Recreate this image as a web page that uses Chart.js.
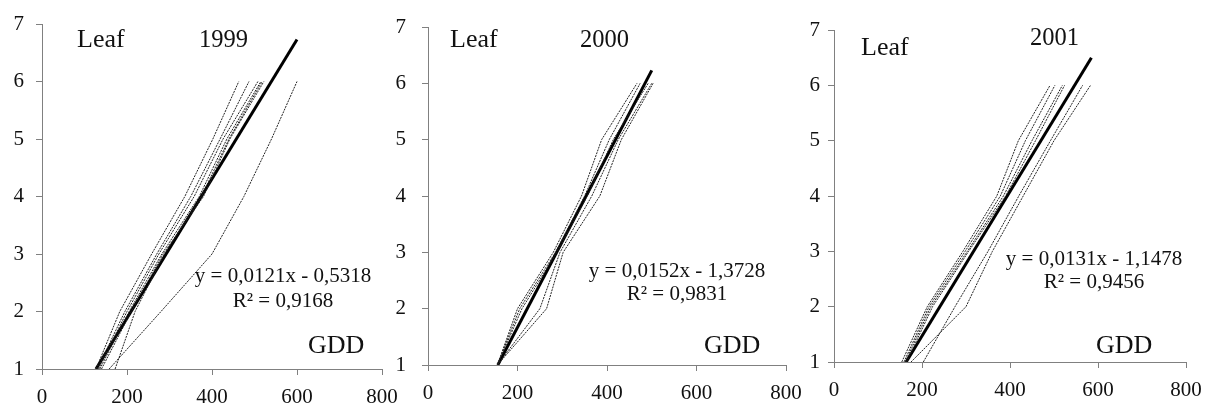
<!DOCTYPE html>
<html>
<head>
<meta charset="utf-8">
<script src="https://cdn.jsdelivr.net/npm/chart.js@4.4.0/dist/chart.umd.min.js"></script>
<style>
  html, body { margin: 0; padding: 0; background: #fff; }
  #wrap { position: relative; width: 1205px; height: 403px; overflow: hidden; }
  #wrap canvas { position: absolute; left: 0; top: 0; }
</style>
</head>
<body>
<div id="wrap">
  <canvas id="c1999" width="1205" height="403"></canvas>
  <canvas id="c2000" width="1205" height="403"></canvas>
  <canvas id="c2001" width="1205" height="403"></canvas>
</div>
<script>
// leaf stage (y) and GDD (x)
const leaves = [1, 2, 3, 4, 5, 6];
const xTicks = [0, 200, 400, 600, 800];
const yTicks = [1, 2, 3, 4, 5, 6, 7];

const gdd1999 = [
  [127, 183, 258, 336, 402, 463],
  [130, 195, 270, 350, 419, 487],
  [133, 200, 275, 358, 426, 508],
  [136, 205, 282, 370, 435, 515],
  [140, 210, 285, 380, 442, 522],
  [172, 219, 288, 375, 440, 518],
  [158, 280, 400, 475, 540, 600]
];
const trendX1999 = [127, 600];
const trendY1999 = [1, 6.73];

const gdd2000 = [
  [155, 200, 280, 343, 388, 467],
  [155, 205, 285, 350, 405, 474],
  [155, 210, 288, 356, 414, 492],
  [155, 250, 295, 366, 425, 500],
  [155, 265, 302, 384, 432, 503]
];
const trendX2000 = [156, 500];
const trendY2000 = [1, 6.23];

const gdd2001 = [
  [154, 212, 293, 370, 419, 491],
  [159, 216, 298, 378, 435, 502],
  [162, 220, 303, 385, 450, 519],
  [165, 224, 306, 390, 458, 524],
  [175, 300, 360, 430, 500, 583],
  [203, 275, 350, 420, 492, 565]
];
const trendX2001 = [164, 585];
const trendY2001 = [1, 6.5];

const serif = '"Liberation Serif", "Times New Roman", serif';

const panels = [
  {
    id: 'c1999', year: '1999', series: gdd1999, tx: trendX1999, ty: trendY1999,
    eq: 'y = 0,0121x - 0,5318', r2: 'R\u00b2 = 0,9168',
    area: { left: 42, right: 382, top: 24, bottom: 369 }, yPad: 12, xPad: 10,
    text: { leaf: [77, 47], year: [199, 47], eq: [283, 282, 307], gdd: [308, 353] }
  },
  {
    id: 'c2000', year: '2000', series: gdd2000, tx: trendX2000, ty: trendY2000,
    eq: 'y = 0,0152x - 1,3728', r2: 'R\u00b2 = 0,9831',
    area: { left: 428, right: 786, top: 27, bottom: 365 }, yPad: 16, xPad: 10,
    text: { leaf: [450, 47], year: [580, 47], eq: [677, 277, 300], gdd: [704, 353] }
  },
  {
    id: 'c2001', year: '2001', series: gdd2001, tx: trendX2001, ty: trendY2001,
    eq: 'y = 0,0131x - 1,1478', r2: 'R\u00b2 = 0,9456',
    area: { left: 834, right: 1186, top: 30, bottom: 362 }, yPad: 8, xPad: 10,
    text: { leaf: [861, 55], year: [1030, 45], eq: [1094, 265, 288], gdd: [1096, 353] }
  }
];

function makeChart(p) {
  const datasets = p.series.map((row) => ({
    data: row.map((g, i) => ({ x: g, y: leaves[i] })),
    showLine: true,
    borderColor: '#222',
    borderWidth: 1,
    borderDash: [2, 1],
    pointRadius: 0,
    fill: false
  }));
  datasets.push({
    data: p.tx.map((g, i) => ({ x: g, y: p.ty[i] })),
    showLine: true,
    borderColor: '#000',
    borderWidth: 3,
    pointRadius: 0,
    fill: false
  });

  const labelsPlugin = {
    id: 'labels' + p.year,
    afterDraw(chart) {
      const ctx = chart.ctx;
      const t = p.text;
      ctx.save();
      ctx.fillStyle = '#111';
      ctx.textBaseline = 'alphabetic';
      ctx.textAlign = 'left';
      ctx.font = '26px ' + serif;
      ctx.fillText('Leaf', t.leaf[0], t.leaf[1]);
      ctx.fillText('GDD', t.gdd[0], t.gdd[1]);
      ctx.font = '24.5px ' + serif;
      ctx.fillText(p.year, t.year[0], t.year[1]);
      ctx.font = '21px ' + serif;
      ctx.textAlign = 'center';
      ctx.fillText(p.eq, t.eq[0], t.eq[1]);
      ctx.fillText(p.r2, t.eq[0], t.eq[2]);
      ctx.restore();
    }
  };

  const axisGrid = {
    display: true,
    drawOnChartArea: false,
    drawTicks: true,
    tickLength: 6,
    color: '#808080',
    lineWidth: 1
  };

  // y box spans from (left - yBox) to left, x box from bottom to the page edge
  const yBox = 40;
  const xBox = 403 - p.area.bottom;

  new Chart(document.getElementById(p.id), {
    type: 'scatter',
    data: { datasets: datasets },
    options: {
      responsive: false,
      animation: false,
      events: [],
      layout: {
        padding: {
          left: p.area.left - yBox,
          right: 1205 - p.area.right,
          top: p.area.top,
          bottom: 0
        }
      },
      plugins: { legend: { display: false }, tooltip: { enabled: false } },
      scales: {
        x: {
          type: 'linear', min: 0, max: 800,
          grid: axisGrid,
          border: { display: true, color: '#808080', width: 1 },
          ticks: { color: '#111', padding: p.xPad, font: { family: serif, size: 21 } },
          afterBuildTicks: (s) => { s.ticks = xTicks.map((v) => ({ value: v })); },
          afterFit: (s) => { s.height = xBox; s.paddingLeft = 0; s.paddingRight = 0; }
        },
        y: {
          type: 'linear', min: 1, max: 7,
          grid: axisGrid,
          border: { display: true, color: '#808080', width: 1 },
          ticks: { color: '#111', padding: p.yPad, font: { family: serif, size: 21 } },
          afterBuildTicks: (s) => { s.ticks = yTicks.map((v) => ({ value: v })); },
          afterFit: (s) => { s.width = yBox; s.paddingTop = 0; s.paddingBottom = 0; }
        }
      }
    },
    plugins: [labelsPlugin]
  });
}

panels.forEach(makeChart);
</script>
</body>
</html>
